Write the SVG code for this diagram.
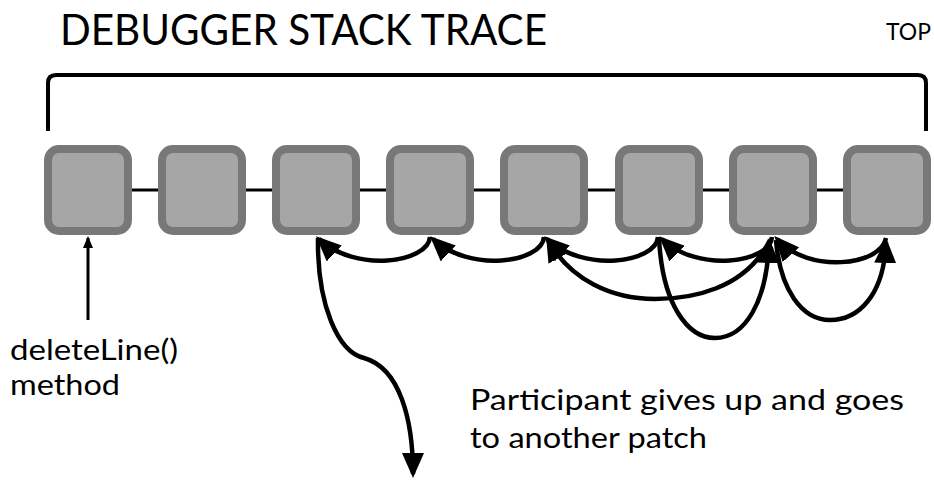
<svg xmlns="http://www.w3.org/2000/svg" width="934" height="483" viewBox="0 0 934 483">
  <style>
    text { font-family: Lato, "Open Sans", "Liberation Sans", sans-serif; fill: #000; }
    .frame { fill: #a6a6a6; stroke: #787878; stroke-width: 8; }
    .link { stroke: #000; stroke-width: 3; fill: none; }
    .nav { stroke: #000; stroke-width: 4.5; fill: none; marker-end: url(#head); }
    .bracket { stroke: #000; stroke-width: 4; fill: none; stroke-linejoin: round; }
  </style>
  <defs>
    <marker id="head" markerUnits="userSpaceOnUse" viewBox="0 0 25 22" markerWidth="25" markerHeight="22" refX="21" refY="11" orient="auto">
      <path d="M0,0 L25,11 L0,22 z" fill="#000"/>
    </marker>
    <marker id="small" markerUnits="userSpaceOnUse" viewBox="0 0 12 10" markerWidth="12" markerHeight="10" refX="10" refY="5" orient="auto">
      <path d="M0,0 L12,5 L0,10 z" fill="#000"/>
    </marker>
  </defs>

  <rect width="934" height="483" fill="#fff"/>

  <text x="60" y="45" font-size="42" textLength="487" lengthAdjust="spacingAndGlyphs">DEBUGGER STACK TRACE</text>
  <text x="886" y="40" font-size="23" textLength="45" lengthAdjust="spacingAndGlyphs">TOP</text>

  <!-- bracket spanning the whole stack -->
  <path class="bracket" d="M48,131 L48,83 Q48,75 56,75 L918,75 Q926,75 926,83 L926,131"/>

  <!-- stack frames, bottom (left) to top (right) -->
  <g id="frame1"><rect class="frame" x="48" y="149" width="80" height="82" rx="11"/></g>
  <g id="frame2"><rect class="frame" x="162" y="149" width="80" height="82" rx="11"/></g>
  <g id="frame3"><rect class="frame" x="276" y="149" width="80" height="82" rx="11"/></g>
  <g id="frame4"><rect class="frame" x="390" y="149" width="80" height="82" rx="11"/></g>
  <g id="frame5"><rect class="frame" x="504" y="149" width="80" height="82" rx="11"/></g>
  <g id="frame6"><rect class="frame" x="619" y="149" width="80" height="82" rx="11"/></g>
  <g id="frame7"><rect class="frame" x="733" y="149" width="80" height="82" rx="11"/></g>
  <g id="frame8"><rect class="frame" x="847" y="149" width="80" height="82" rx="11"/></g>

  <g id="connectors">
    <!-- links between adjacent frames -->
    <path class="link" d="M132,190 H158 M246,190 H272 M360,190 H386 M474,190 H500 M588,190 H615 M703,190 H729 M817,190 H843"/>

    <!-- navigation steps -->
    <path class="nav" d="M886,238 C881,266 808,274 777,239"/>
    <path class="nav" d="M772,237 C770,263 697,273 662,239"/>
    <path class="nav" d="M659,237 C662,305 688,338 715,338 C745,338 767,302 769,242"/>
    <path class="nav" d="M776,240 C780,290 802,320 830,320 C858,320 884,296 886,242"/>
    <path class="nav" d="M770,240 C745,290 690,299 655,299 C612,299 570,280 548,240"/>
    <path class="nav" d="M658,237 C656,263 583,273 547,239"/>
    <path class="nav" d="M544,237 C542,263 469,273 433,239"/>
    <path class="nav" d="M430,237 C428,263 355,273 319,239"/>
    <path class="nav" d="M318,238 C317,305 338,352 364,358 C400,368 413,420 413,474"/>

    <!-- entry point -->
    <path d="M88,320 V238" stroke="#000" stroke-width="3" fill="none" marker-end="url(#small)"/>
  </g>

  <text x="10" y="360" font-size="29" textLength="168" lengthAdjust="spacingAndGlyphs">deleteLine()</text>
  <text x="10" y="395" font-size="29" textLength="110" lengthAdjust="spacingAndGlyphs">method</text>
  <text x="470" y="410" font-size="29" textLength="434" lengthAdjust="spacingAndGlyphs">Participant gives up and goes</text>
  <text x="470" y="448" font-size="29" textLength="237" lengthAdjust="spacingAndGlyphs">to another patch</text>
</svg>
